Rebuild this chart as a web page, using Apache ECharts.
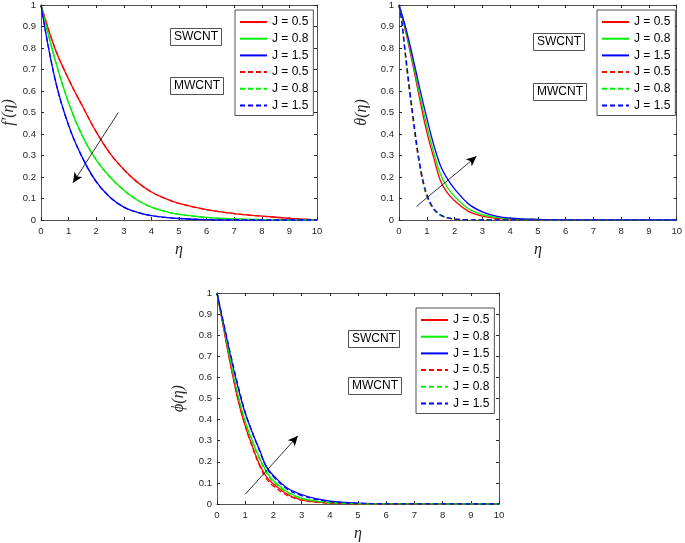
<!DOCTYPE html>
<html>
<head>
<meta charset="utf-8">
<script src="https://cdn.jsdelivr.net/npm/echarts@6/dist/echarts.min.js"></script>
<style>
html,body{margin:0;padding:0;background:#fff;}
#chart{width:685px;height:543px;}
</style>
</head>
<body>
<div id="chart"></div>
<script>
// ---------- data ----------
const jValues = ['0.5', '0.8', '1.5'];
const xTicks = [0,1,2,3,4,5,6,7,8,9,10];
const yTicks = [0,0.1,0.2,0.3,0.4,0.5,0.6,0.7,0.8,0.9,1];

// f'(eta)
const etaF = [0,0.5,1,1.5,2,2.5,3,3.5,4,4.5,5,6,7,8,9,10];
const fS05 = [1,0.80,0.655,0.53,0.41,0.31,0.235,0.175,0.13,0.10,0.077,0.048,0.03,0.018,0.008,0];
const fS08 = [1,0.75,0.545,0.39,0.28,0.20,0.138,0.092,0.06,0.04,0.026,0.012,0.005,0.002,0.0008,0];
const fS15 = [1,0.66,0.44,0.29,0.178,0.106,0.06,0.035,0.02,0.012,0.007,0.002,0.0005,0,0,0];
const fM05 = [1,0.80,0.655,0.53,0.41,0.31,0.235,0.175,0.13,0.10,0.077,0.048,0.03,0.018,0.008,0];
const fM08 = [1,0.75,0.545,0.39,0.28,0.20,0.138,0.092,0.06,0.04,0.026,0.012,0.005,0.002,0.0008,0];
const fM15 = [1,0.66,0.44,0.29,0.178,0.106,0.06,0.035,0.02,0.012,0.007,0.002,0.0005,0,0,0];

// theta(eta) solid (SWCNT)
const etaTS = [0,0.25,0.5,0.75,1,1.25,1.5,1.75,2,2.5,3,3.5,4,5,6,10];
const tS05 = [1,0.87,0.72,0.56,0.41,0.29,0.18,0.125,0.09,0.04,0.018,0.008,0.004,0.001,0,0];
const tS08 = [1,0.88,0.735,0.58,0.44,0.315,0.21,0.15,0.11,0.052,0.025,0.012,0.006,0.002,0.0005,0];
const tS15 = [1,0.89,0.755,0.61,0.475,0.35,0.25,0.19,0.145,0.075,0.038,0.018,0.009,0.003,0.001,0];
// theta(eta) dashed (MWCNT)
const etaTM = [0,0.1,0.2,0.3,0.4,0.5,0.6,0.7,0.8,0.9,1,1.2,1.4,1.6,1.8,2,2.5,3,10];
const tM05 = [1,0.92,0.80,0.68,0.57,0.47,0.37,0.285,0.21,0.155,0.11,0.058,0.03,0.015,0.008,0.004,0.001,0,0];
const tM08 = [1,0.922,0.805,0.69,0.58,0.48,0.38,0.292,0.218,0.16,0.115,0.06,0.031,0.016,0.0085,0.004,0.001,0,0];
const tM15 = [1,0.925,0.81,0.70,0.59,0.49,0.39,0.30,0.225,0.165,0.12,0.063,0.033,0.017,0.009,0.004,0.001,0,0];

// phi(eta)
const etaP = [0,0.25,0.5,0.75,1,1.25,1.5,1.75,2,2.5,3,3.5,4,4.5,5,6,10];
const pS05 = [1,0.82,0.645,0.49,0.37,0.275,0.19,0.13,0.095,0.045,0.02,0.01,0.005,0.002,0.001,0,0];
const pS08 = [1,0.83,0.66,0.51,0.39,0.30,0.22,0.155,0.11,0.057,0.028,0.014,0.007,0.004,0.002,0.0005,0];
const pS15 = [1,0.84,0.69,0.55,0.43,0.34,0.26,0.177,0.135,0.075,0.045,0.025,0.014,0.008,0.004,0.001,0];
const pM05 = [1,0.825,0.65,0.495,0.37,0.27,0.185,0.12,0.085,0.04,0.018,0.009,0.004,0.002,0.001,0,0];
const pM08 = [1,0.835,0.665,0.515,0.39,0.295,0.215,0.15,0.105,0.053,0.026,0.013,0.006,0.003,0.0015,0.0004,0];
const pM15 = [1,0.85,0.70,0.56,0.435,0.34,0.255,0.175,0.13,0.07,0.04,0.022,0.012,0.006,0.003,0.001,0];

// ---------- styling / layout ----------
const colors = ['#ff0000', '#00ee00', '#0000ff'];
const axisColor = '#262626';
const grids = [
  {left: 36, top: 3, width: 281, height: 217},
  {left: 399, top: 3, width: 281, height: 217},
  {left: 217, top: 293, width: 282, height: 217}
];
const yNames = ['f\u2032(\u03b7)', '\u03b8(\u03b7)', '\u03d5(\u03b7)'];
const yNameGaps = [24, 29, 30];
const plotKeys = ['F', 'T', 'P'];
const plotData = [
  {S: [[etaF, fS05], [etaF, fS08], [etaF, fS15]], M: [[etaF, fM05], [etaF, fM08], [etaF, fM15]]},
  {S: [[etaTS, tS05], [etaTS, tS08], [etaTS, tS15]], M: [[etaTM, tM05], [etaTM, tM08], [etaTM, tM15]]},
  {S: [[etaP, pS05], [etaP, pS08], [etaP, pS15]], M: [[etaP, pM05], [etaP, pM08], [etaP, pM15]]}
];
const arrows = [
  [[2.8, 0.5], [1.16, 0.173]],
  [[0.63, 0.063], [2.79, 0.296]],
  [[1.0, 0.046], [2.87, 0.323]]
];
const legendPos = [[235, 10], [597, 10], [416, 308]];
const boxPos = [
  [[170, 28], [170, 77]],
  [[533, 33], [533, 83]],
  [[348, 330], [348, 377]]
];
const boxTexts = ['SWCNT', 'MWCNT'];

function fmt(v) { return String(Math.round(v * 10) / 10); }

const xAxes = [], yAxes = [], series = [], legends = [], titles = [];
grids.forEach((g, i) => {
  xAxes.push({
    type: 'value', gridIndex: i, min: 0, max: 10, interval: 1, position: 'bottom',
    name: '\u03b7', nameLocation: 'middle', nameGap: 22,
    nameTextStyle: {fontFamily: 'Liberation Serif', fontStyle: 'italic', fontSize: 16, color: axisColor},
    axisLine: {show: true, onZero: false, lineStyle: {color: axisColor, width: 0.8}},
    axisTick: {show: true, inside: true, length: 3, lineStyle: {color: axisColor}},
    axisLabel: {show: true, fontSize: 9.5, color: axisColor, fontFamily: 'Liberation Sans', margin: 6, formatter: v => fmt(v)},
    splitLine: {show: false}
  });
  xAxes.push({
    type: 'value', gridIndex: i, min: 0, max: 10, interval: 1, position: 'top',
    axisLine: {show: true, onZero: false, lineStyle: {color: axisColor, width: 0.8}},
    axisTick: {show: true, inside: true, length: 3, lineStyle: {color: axisColor}},
    axisLabel: {show: false}, splitLine: {show: false}
  });
  yAxes.push({
    type: 'value', gridIndex: i, min: 0, max: 1, interval: 0.1, position: 'left',
    name: yNames[i], nameLocation: 'middle', nameGap: yNameGaps[i], nameRotate: 90,
    nameTextStyle: {fontFamily: 'Liberation Serif', fontStyle: 'italic', fontSize: 16, color: axisColor},
    axisLine: {show: true, onZero: false, lineStyle: {color: axisColor, width: 0.8}},
    axisTick: {show: true, inside: true, length: 3, lineStyle: {color: axisColor}},
    axisLabel: {show: true, fontSize: 9.5, color: axisColor, fontFamily: 'Liberation Sans', margin: 5, formatter: v => fmt(v)},
    splitLine: {show: false}
  });
  yAxes.push({
    type: 'value', gridIndex: i, min: 0, max: 1, interval: 0.1, position: 'right',
    axisLine: {show: true, onZero: false, lineStyle: {color: axisColor, width: 0.8}},
    axisTick: {show: true, inside: true, length: 3, lineStyle: {color: axisColor}},
    axisLabel: {show: false}, splitLine: {show: false}
  });

  const names = [];
  ['S', 'M'].forEach(kind => {
    plotData[i][kind].forEach((pair, k) => {
      const nm = plotKeys[i] + '|' + kind + '|J = ' + jValues[k];
      names.push(nm);
      const s = {
        type: 'line', name: nm, xAxisIndex: 2 * i, yAxisIndex: 2 * i,
        data: pair[0].map((x, idx) => [x, pair[1][idx]]),
        showSymbol: false, symbol: 'none', smooth: 0.4,
        color: colors[k],
        lineStyle: {color: colors[k], width: 1.3, type: kind === 'S' ? 'solid' : [5, 3]},
        silent: true, z: kind === 'S' ? 2 : 3
      };
      series.push(s);
    });
  });
  // arrow annotation (in data coordinates)
  series[series.length - 1].markLine = {
    silent: true, symbol: ['none', 'arrow'], symbolSize: [7, 10],
    label: {show: false},
    lineStyle: {color: '#000', width: 0.8, type: 'solid'},
    emphasis: {disabled: true},
    data: [[{coord: arrows[i][0]}, {coord: arrows[i][1]}]]
  };

  legends.push({
    data: names, orient: 'vertical', left: legendPos[i][0], top: legendPos[i][1],
    itemWidth: 27, itemHeight: 12, itemGap: 4.7,
    padding: [6, 5, 4, 4],
    backgroundColor: '#fff', borderColor: axisColor, borderWidth: 0.8,
    itemStyle: {opacity: 0, color: 'rgba(0,0,0,0)', borderWidth: 0},
    textStyle: {fontSize: 12, color: '#000', fontFamily: 'Liberation Sans', lineHeight: 12},
    formatter: n => n.split('|')[2],
    selectedMode: false
  });

  boxPos[i].forEach((p, b) => {
    titles.push({
      text: boxTexts[b], left: p[0], top: p[1],
      padding: [3, 4, 3, 4], borderWidth: 0.8, borderColor: axisColor, backgroundColor: '#fff',
      textStyle: {fontSize: 12, fontWeight: 'normal', color: '#000', fontFamily: 'Liberation Sans'}
    });
  });
});

const chart = echarts.init(document.getElementById('chart'), null, {renderer: 'canvas'});
chart.setOption({
  animation: false,
  backgroundColor: '#fff',
  title: titles,
  grid: grids,
  xAxis: xAxes,
  yAxis: yAxes,
  legend: legends,
  series: series
});
</script>
</body>
</html>
